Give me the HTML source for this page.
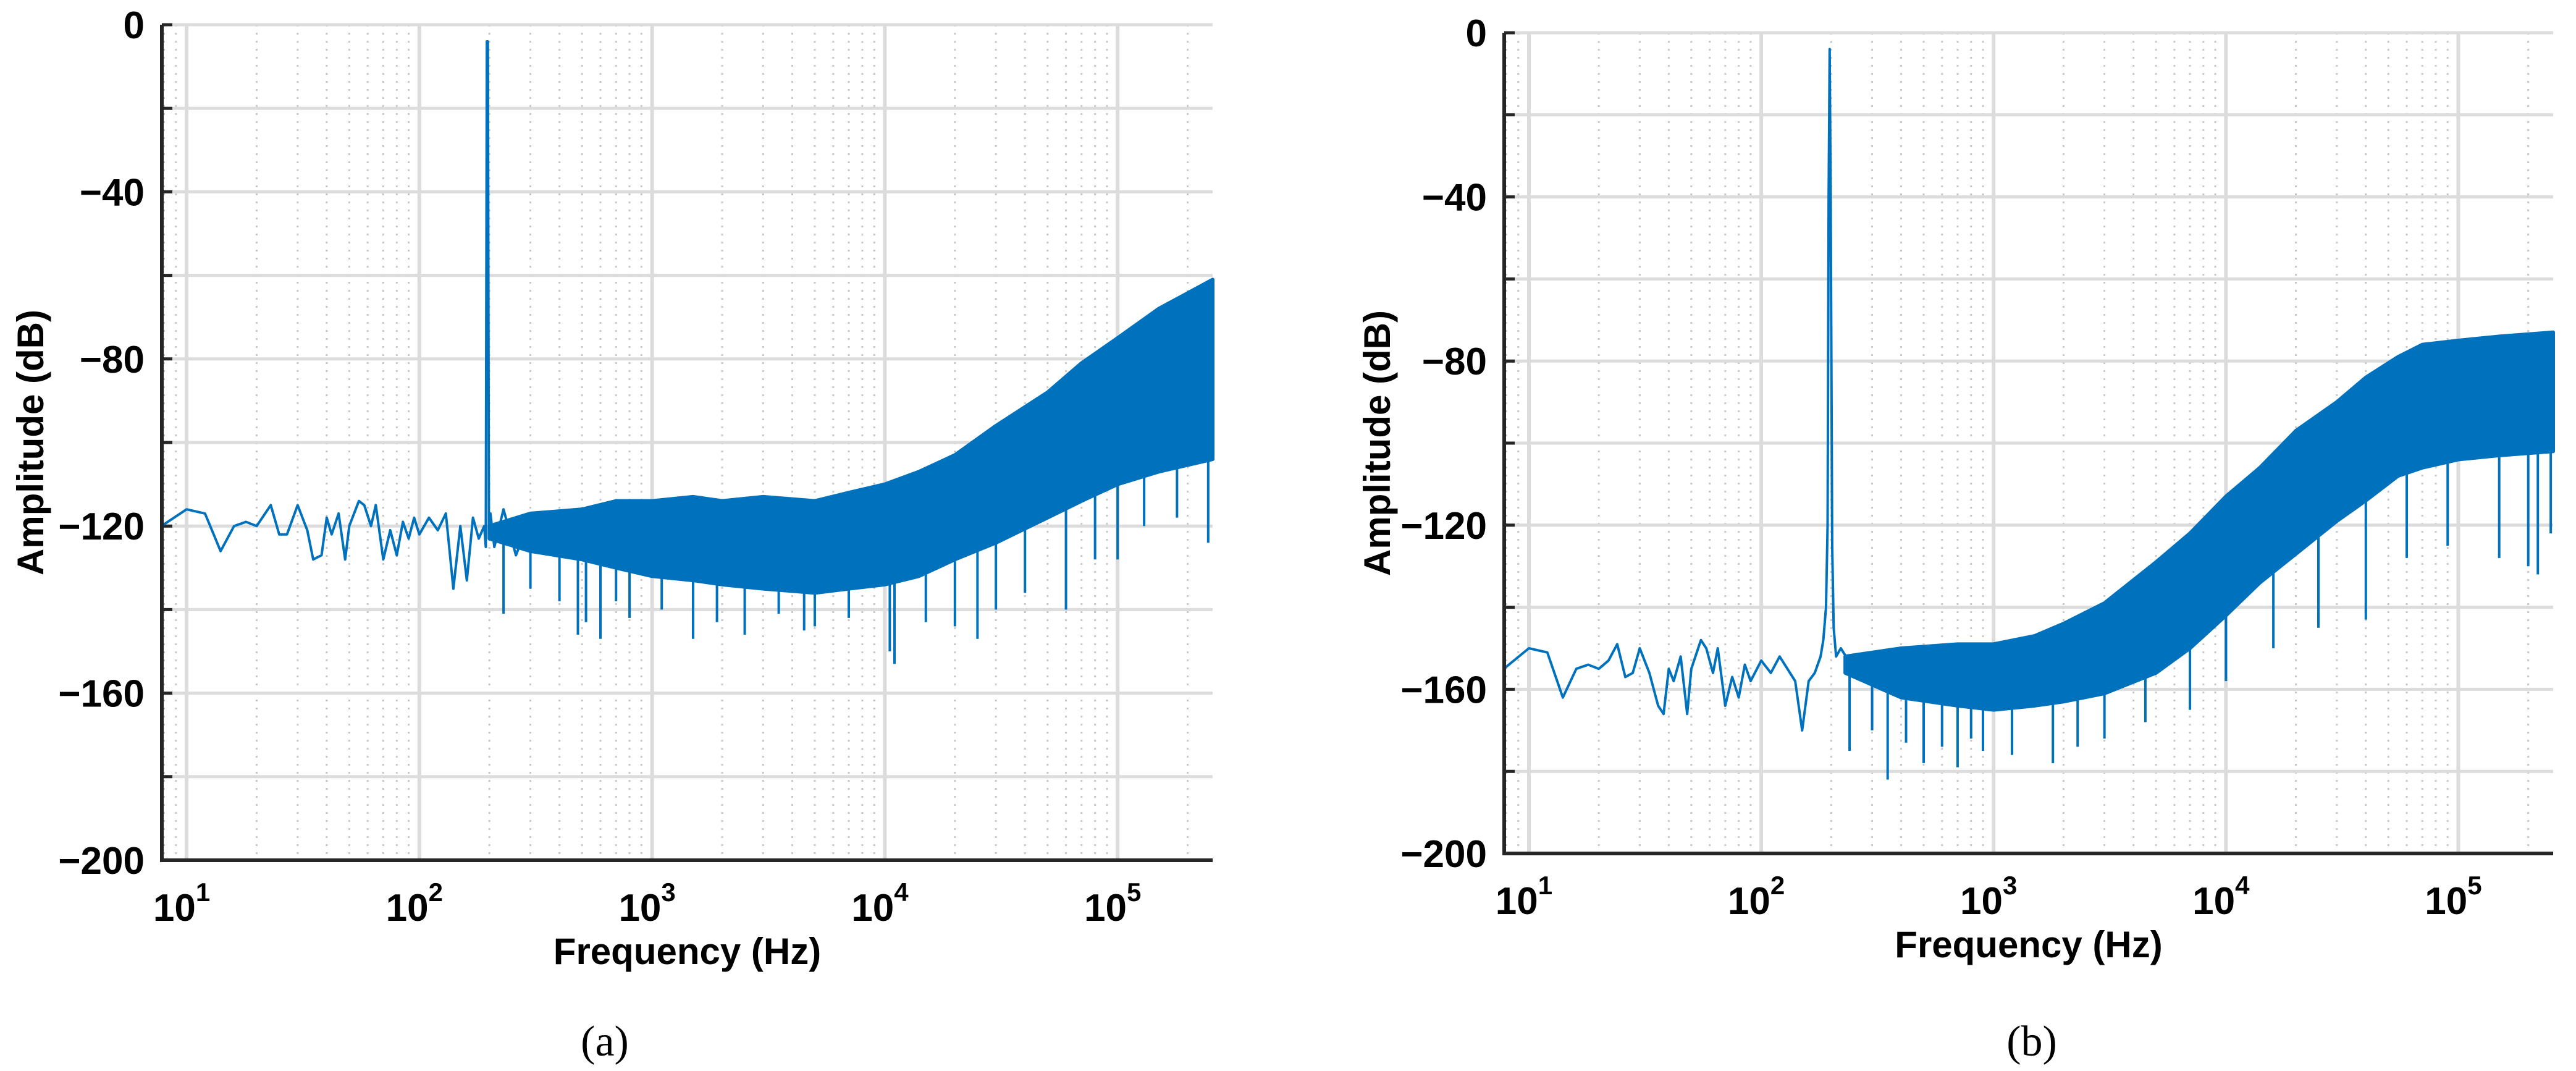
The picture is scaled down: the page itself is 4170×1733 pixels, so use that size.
<!DOCTYPE html>
<html><head><meta charset="utf-8">
<style>
html,body{margin:0;padding:0;background:#fff;}
svg{display:block;}
text{font-family:"Liberation Sans",Arial,sans-serif;font-weight:bold;fill:#000;}
.cap{font-family:"Liberation Serif",serif;font-weight:normal;}
</style></head>
<body>
<svg id="fig" width="4170" height="1733" viewBox="0 0 4170 1733" xmlns="http://www.w3.org/2000/svg"></svg>
<script>
// ---- Panel (a) data ----
const aLineFreq = [7.8,10,12,14,16,18,20,23,25,27,30,33,35,38,40,42,45,48,50,55,58,62,65,70,75,80,85,90,95,100,110,120,130,140,150,160,170,180,190,193,195,197,199,202,210,230,260,300];
const aLineDb   = [-120,-116,-117,-126,-120,-119,-120,-115,-122,-122,-115,-121,-128,-127,-118,-122,-117,-128,-120,-114,-115,-120,-115,-128,-121,-127,-119,-123,-118,-122,-118,-121,-117,-135,-120,-133,-118,-123,-120,-125,-4,-4,-120,-117,-125,-116,-127,-118];
const aBandFreq  = [200,300,500,700,1000,1500,2000,3000,5000,7000,10000,14000,20000,30000,50000,70000,100000,150000,256000];
const aBandUpper = [-120,-117,-116,-114,-114,-113,-114,-113,-114,-112,-110,-107,-103,-96,-88,-81,-75,-68,-61];
const aBandLower = [-123,-126,-128,-130,-132,-133,-134,-135,-136,-135,-134,-132,-128,-124,-118,-114,-110,-107,-104];
const aSpikeFreq = [230,300,400,480,520,600,700,800,1100,1500,1900,2500,3500,4500,5000,7000,10500,11000,15000,20000,25000,30000,40000,60000,80000,100000,130000,180000,245000];
const aSpikeDb   = [-141,-135,-138,-146,-143,-147,-138,-142,-140,-147,-143,-146,-141,-145,-144,-142,-150,-153,-143,-144,-147,-140,-136,-140,-128,-128,-120,-118,-124];
// ---- Panel (b) data ----
const bLineFreq = [7.8,10,12,14,16,18,20,22,24,26,28,30,33,36,38,40,42,45,48,50,55,58,62,65,70,75,80,85,90,100,110,120,140,150,160,170,180,185,190,193,195,197,199,202,205,210,220,250];
const bLineDb   = [-155,-150,-151,-162,-155,-154,-155,-153,-149,-157,-156,-150,-156,-164,-166,-155,-158,-152,-166,-155,-148,-150,-156,-150,-164,-157,-162,-154,-158,-153,-156,-152,-158,-170,-158,-156,-152,-148,-140,-120,-40,-4,-40,-125,-145,-152,-150,-155];
const bBandFreq  = [230,400,700,1000,1500,2000,3000,5000,7000,10000,14000,20000,30000,40000,55000,70000,100000,150000,256000];
const bBandUpper = [-152,-150,-149,-149,-147,-144,-139,-129,-122,-113,-106,-97,-90,-84,-79,-76,-75,-74,-73];
const bBandLower = [-156,-162,-164,-165,-164,-163,-161,-156,-150,-142,-134,-127,-119,-114,-108,-106,-104,-103,-102];
const bSpikeFreq = [240,300,350,420,500,600,700,800,900,1200,1800,2300,3000,4500,7000,10000,16000,25000,40000,60000,90000,150000,200000,220000,250000];
const bSpikeDb   = [-175,-170,-182,-173,-178,-174,-179,-172,-175,-176,-178,-174,-172,-168,-165,-158,-150,-145,-143,-128,-125,-128,-130,-132,-122];
const yTicks = [0,-40,-80,-120,-160,-200];
const xDecades = [1,2,3,4,5];

const NS="http://www.w3.org/2000/svg";
const svg=document.getElementById('fig');
function mk(tag,attrs,parent){const e=document.createElementNS(NS,tag);for(const k in attrs)e.setAttribute(k,attrs[k]);(parent||svg).appendChild(e);return e;}

function panel(cfg){
  const g=mk('g',{});
  
  
  const lmin=Math.log10(7.83), lmax=Math.log10(256000);
  const X=f=>cfg.L+(Math.log10(f)-lmin)/(lmax-lmin)*(cfg.R-cfg.L);
  const Y=d=>cfg.T+(0-d)/200*(cfg.B-cfg.T);
  for(let dec=0;dec<=5;dec++){for(let m=2;m<=9;m++){const f=m*Math.pow(10,dec);if(f<7.83||f>256000)continue;
    const l=mk('line',{x1:X(f),x2:X(f),y1:cfg.T,y2:cfg.B,stroke:'#c8c8c8','stroke-width':3,'stroke-dasharray':'3 10'},g);
    
    }}
  for(let dec=1;dec<=5;dec++){const f=Math.pow(10,dec);
    const l=mk('line',{x1:X(f),x2:X(f),y1:cfg.T,y2:cfg.B,stroke:'#dcdcdc','stroke-width':6},g);
    
    }
  for(let d=0;d>=-200;d-=20){
    const l=mk('line',{x1:cfg.L,x2:cfg.R,y1:Y(d),y2:Y(d),stroke:'#dcdcdc','stroke-width':5},g);
    
    
    mk('line',{x1:cfg.L,x2:cfg.L+17,y1:Y(d),y2:Y(d),stroke:'#262626','stroke-width':5},g);}
  let pts=[];
  cfg.bf.forEach((f,i)=>pts.push(X(f)+','+Y(cfg.bu[i])));
  for(let i=cfg.bf.length-1;i>=0;i--)pts.push(X(cfg.bf[i])+','+Y(cfg.bl[i]));
  const band=mk('polygon',{points:pts.join(' '),fill:'#0072BD',stroke:'#0072BD','stroke-width':6,'stroke-linejoin':'round'},g);
  
  
  const lowAt=f=>{const lf=Math.log10(f);for(let i=0;i<cfg.bf.length-1;i++){const a=Math.log10(cfg.bf[i]),b=Math.log10(cfg.bf[i+1]);if(lf>=a&&lf<=b){const t=(lf-a)/(b-a);return cfg.bl[i]+t*(cfg.bl[i+1]-cfg.bl[i]);}}return lf<Math.log10(cfg.bf[0])?cfg.bl[0]:cfg.bl[cfg.bl.length-1];};
  cfg.sf.forEach((f,i)=>{
    const s=mk('line',{x1:X(f),x2:X(f),y1:Y(lowAt(f)),y2:Y(cfg.sd[i]),stroke:'#0072BD','stroke-width':4},g);
    
    });
  const lp=cfg.lf.map((f,i)=>X(f)+','+Y(cfg.ld[i])).join(' ');
  const pl=mk('polyline',{points:lp,fill:'none',stroke:'#0072BD','stroke-width':4,'stroke-linejoin':'round'},g);
  
  
  const ax=mk('path',{d:`M${cfg.L},${cfg.T} L${cfg.L},${cfg.B} L${cfg.R},${cfg.B}`,fill:'none',stroke:'#262626','stroke-width':6},g);
  
  
  yTicks.forEach(v=>{
    const t=mk('text',{x:cfg.L-28,y:Y(v)+22,'text-anchor':'end','font-size':62},g);
    t.textContent=v===0?'0':'\u2212'+(-v);
    
    });
  xDecades.forEach(p=>{
    const t=mk('text',{x:X(Math.pow(10,p))-8,y:cfg.B+98,'text-anchor':'middle','font-size':62},g);
    t.textContent='10';
    const s=mk('tspan',{dy:-32,'font-size':42},t);s.textContent=String(p);
    
    });
  const xt=mk('text',{x:(cfg.L+cfg.R)/2,y:cfg.B+168,'text-anchor':'middle','font-size':60},g);
  xt.textContent='Frequency (Hz)';
  
  
  const yc=(cfg.T+cfg.B)/2;
  const yt=mk('text',{x:cfg.yx,y:yc,'text-anchor':'middle','font-size':60,transform:`rotate(-90 ${cfg.yx} ${yc})`},g);
  yt.textContent='Amplitude (dB)';
  
  
  const cap=mk('text',{x:cfg.cx,y:1708,'text-anchor':'middle','font-size':70,class:'cap'},g);
  cap.textContent='('+cfg.cap+')';
  
  
}
panel({name:'panel-a',L:262,R:1963,T:40,B:1392,yx:70,cx:979,cap:'a',lf:aLineFreq,ld:aLineDb,bf:aBandFreq,bu:aBandUpper,bl:aBandLower,sf:aSpikeFreq,sd:aSpikeDb});
panel({name:'panel-b',L:2435,R:4133,T:53,B:1381,yx:2250,cx:3289,cap:'b',lf:bLineFreq,ld:bLineDb,bf:bBandFreq,bu:bBandUpper,bl:bBandLower,sf:bSpikeFreq,sd:bSpikeDb});
</script>
</body></html>
